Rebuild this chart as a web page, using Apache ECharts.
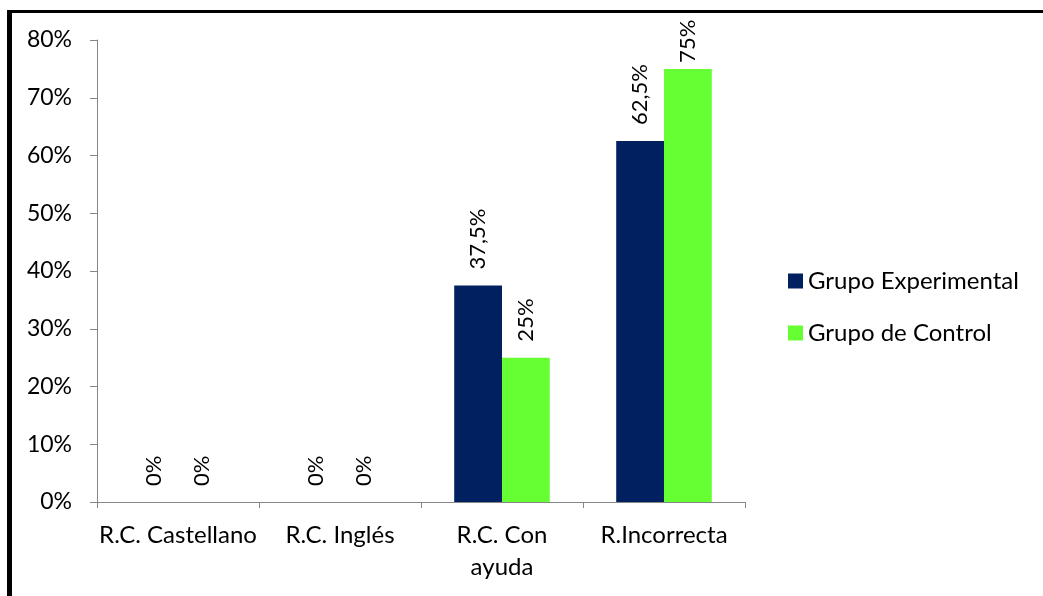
<!DOCTYPE html>
<html>
<head>
<meta charset="utf-8">
<script src="https://cdn.jsdelivr.net/npm/echarts@6/dist/echarts.min.js"></script>
<style>
  html, body { margin: 0; padding: 0; background: #fff; }
  #chart { width: 1043px; height: 596px; }
</style>
</head>
<body>
<div id="chart"></div>
<script>
// Response types per group (share of answers)
const categories = ['R.C. Castellano', 'R.C. Inglés', 'R.C. Con\nayuda', 'R.Incorrecta'];
const grupoExperimental = [0, 0, 37.5, 62.5];
const grupoControl = [0, 0, 25, 75];
const seriesNames = ['Grupo Experimental', 'Grupo de Control'];
const yTicks = { min: 0, max: 80, interval: 10 };

const FONT = 'Lato';
const pct = v => String(v).replace('.', ',') + '%';

const chart = echarts.init(document.getElementById('chart'), null, { renderer: 'canvas' });

const barLabel = {
  show: true,
  position: 'top',
  rotate: 90,
  align: 'left',
  verticalAlign: 'middle',
  distance: 16,
  color: '#000',
  fontFamily: FONT,
  fontSize: 22,
  formatter: p => pct(p.value)
};

// Labels that would run past the top of the plot sit closer to their bar
const toItems = values => values.map(v => (v >= 75 ? { value: v, label: { distance: 6 } } : v));

chart.setOption({
  animation: false,
  backgroundColor: '#fff',
  textStyle: { fontFamily: FONT },
  grid: { left: 97, right: 298, top: 40, bottom: 94, containLabel: false },
  legend: {
    orient: 'vertical',
    left: 783,
    top: 264,
    itemWidth: 15,
    itemHeight: 15,
    itemGap: 28,
    icon: 'rect',
    textStyle: { color: '#000', fontFamily: FONT, fontSize: 24, padding: [0, 0, 0, 0] },
    data: seriesNames
  },
  xAxis: {
    type: 'category',
    data: categories,
    axisLine: { lineStyle: { color: '#868686', width: 1 } },
    axisTick: { show: true, length: 6, lineStyle: { color: '#868686' } },
    axisLabel: { color: '#000', fontFamily: FONT, fontSize: 24, margin: 17, lineHeight: 32, interval: 0 },
    splitLine: { show: false }
  },
  yAxis: {
    type: 'value',
    min: yTicks.min,
    max: yTicks.max,
    interval: yTicks.interval,
    axisLine: { show: true, lineStyle: { color: '#868686', width: 1 } },
    axisTick: { show: true, length: 7, lineStyle: { color: '#868686' } },
    axisLabel: { color: '#000', fontFamily: FONT, fontSize: 23, margin: 25, formatter: v => v + '%' },
    splitLine: { show: false }
  },
  series: [
    {
      name: seriesNames[0],
      type: 'bar',
      data: toItems(grupoExperimental),
      barGap: '0%',
      barCategoryGap: '41%',
      itemStyle: { color: '#002060' },
      label: barLabel
    },
    {
      name: seriesNames[1],
      type: 'bar',
      data: toItems(grupoControl),
      barGap: '0%',
      barCategoryGap: '41%',
      itemStyle: { color: '#66FF33' },
      label: barLabel
    }
  ],
  graphic: [
    { type: 'rect', shape: { x: 7, y: 10, width: 1036, height: 3 }, style: { fill: '#000' }, silent: true },
    { type: 'rect', shape: { x: 7, y: 10, width: 5, height: 586 }, style: { fill: '#000' }, silent: true }
  ]
});
</script>
</body>
</html>
